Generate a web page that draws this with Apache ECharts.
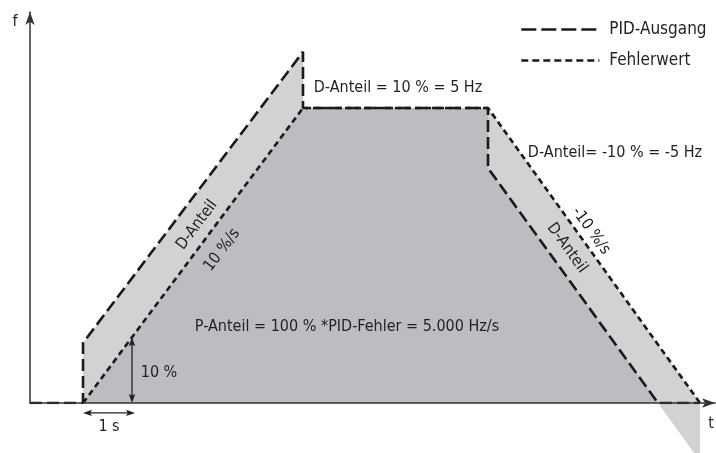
<!DOCTYPE html>
<html><head><meta charset="utf-8">
<script src="https://cdn.jsdelivr.net/npm/echarts@6/dist/echarts.min.js"></script>
<style>html,body{margin:0;padding:0;background:#fff}#c{width:716px;height:453px}</style>
</head><body><div id="c"></div>
<script>
// t in s, f in % of max
const pidAusgang = [[0,0],[1.06,0],[1.06,9.1],[5.46,53.2],[5.46,44.7],[9.16,44.7],[9.16,35.6],[12.56,0],[13.4,0]];
const fehlerwert = [[1.06,0],[5.46,44.7],[9.16,44.7],[13.4,0]];
const upperEnvelope = [[1.06,0],[1.06,9.1],[5.46,53.2],[5.46,44.7],[9.16,44.7],[13.4,0]];
const lowerEnvelope = [[1.06,0],[5.46,44.7],[9.16,44.7],[9.16,35.6],[12.56,0]];
const negativeD = [[12.56,0],[13.4,-8.8]];
const arrows = [[2.04,0,2.04,9.96],[1.06,-1.5,2.1,-1.5]];
const legendNames = ['PID-Ausgang','Fehlerwert'];

const FONT = "'DejaVu Sans Condensed','Liberation Sans Narrow',sans-serif";
const TXT = '#231f20';
const LIGHT = '#d1d2d4', DARK = '#bcbdc0';

const chart = echarts.init(document.getElementById('c'), null, {renderer:'canvas'});
function txt(text, x, y, rot, size){
  return {type:'text', x:x, y:y, rotation:rot||0, z:100,
    style:{text:text, fill:TXT, fontSize:size||16, fontFamily:FONT, align:'center', verticalAlign:'middle'}};
}
const r1 = Math.atan2(295,220), r2 = -Math.atan2(235,170);
chart.setOption({
  animation:false,
  grid:{left:30, right:1, top:12, bottom:50},
  xAxis:{type:'value', min:0, max:13.7, z:10,
    axisLine:{onZero:false, lineStyle:{color:'#333', width:1.5}, symbol:['none','arrow'], symbolSize:[7,13]},
    axisTick:{show:false}, axisLabel:{show:false}, splitLine:{show:false}},
  yAxis:{type:'value', min:0, max:59.24, z:10,
    axisLine:{show:true, onZero:false, lineStyle:{color:'#333', width:1.5}, symbol:['none','arrow'], symbolSize:[7,13]},
    axisTick:{show:false}, axisLabel:{show:false}, splitLine:{show:false}},
  legend:{orient:'vertical', left:515, top:16, itemWidth:78, itemHeight:14, itemGap:14,
    itemStyle:{color:'rgba(0,0,0,0)', borderWidth:0, opacity:0},
    data:[
      {name:legendNames[0], lineStyle:{type:[15,5], width:2.6}},
      {name:legendNames[1], lineStyle:{type:[7,4], width:2.6}}
    ],
    textStyle:{fontFamily:FONT, fontSize:17, color:TXT, padding:[0,0,0,5]}},
  series:[
    {type:'line', name:'upper', data:upperEnvelope, symbol:'none', silent:true, lineStyle:{width:0}, areaStyle:{color:LIGHT, opacity:1}, z:1},
    {type:'line', name:'lower', data:lowerEnvelope, symbol:'none', silent:true, lineStyle:{width:0}, areaStyle:{color:DARK, opacity:1}, z:2},
    {type:'line', name:'neg', data:negativeD, symbol:'none', silent:true, clip:false, lineStyle:{width:0}, areaStyle:{color:LIGHT, opacity:1}, z:1},
    {type:'line', name:'PID-Ausgang', data:pidAusgang, symbol:'none', color:'#1a1a1a',
      lineStyle:{color:'#1a1a1a', width:2.6, type:[12,5]}, z:5},
    {type:'line', name:'Fehlerwert', data:fehlerwert, symbol:'none', color:'#1a1a1a',
      lineStyle:{color:'#1a1a1a', width:2.6, type:[6,4]}, z:6},
    {type:'custom', name:'arrows', data:arrows, clip:false, z:7,
      encode:{x:[0,2], y:[1,3]},
      renderItem:function(params, api){
        const a = api.coord([api.value(0), api.value(1)]);
        const b = api.coord([api.value(2), api.value(3)]);
        const dx=b[0]-a[0], dy=b[1]-a[1], L=Math.hypot(dx,dy), ux=dx/L, uy=dy/L, nx=-uy, ny=ux;
        const hl=9, hw=3.2;
        function head(p, s){
          return {type:'polygon', shape:{points:[[p[0],p[1]],
            [p[0]+s*ux*hl+nx*hw, p[1]+s*uy*hl+ny*hw],[p[0]+s*ux*hl*0.8, p[1]+s*uy*hl*0.8],
            [p[0]+s*ux*hl-nx*hw, p[1]+s*uy*hl-ny*hw]]}, style:{fill:'#231f20'}};
        }
        return {type:'group', children:[
          {type:'line', shape:{x1:a[0]+ux*5, y1:a[1]+uy*5, x2:b[0]-ux*5, y2:b[1]-uy*5}, style:{stroke:'#231f20', lineWidth:1.3}},
          head(a,1), head(b,-1)]};
      }}
  ],
  graphic:[
    txt('f', 15, 22),
    txt('t', 711, 424),
    txt('D-Anteil = 10 % = 5 Hz', 398, 88),
    txt('D-Anteil= -10 % = -5 Hz', 615, 153),
    txt('D-Anteil', 197, 225, r1),
    txt('10 %/s', 222, 250, r1),
    txt('-10 %/s', 591, 231, r2),
    txt('D-Anteil', 567, 248, r2),
    txt('P-Anteil = 100 % *PID-Fehler = 5.000 Hz/s', 347, 327),
    txt('10 %', 159, 373),
    txt('1 s', 109, 427)
  ]
});
</script></body></html>
